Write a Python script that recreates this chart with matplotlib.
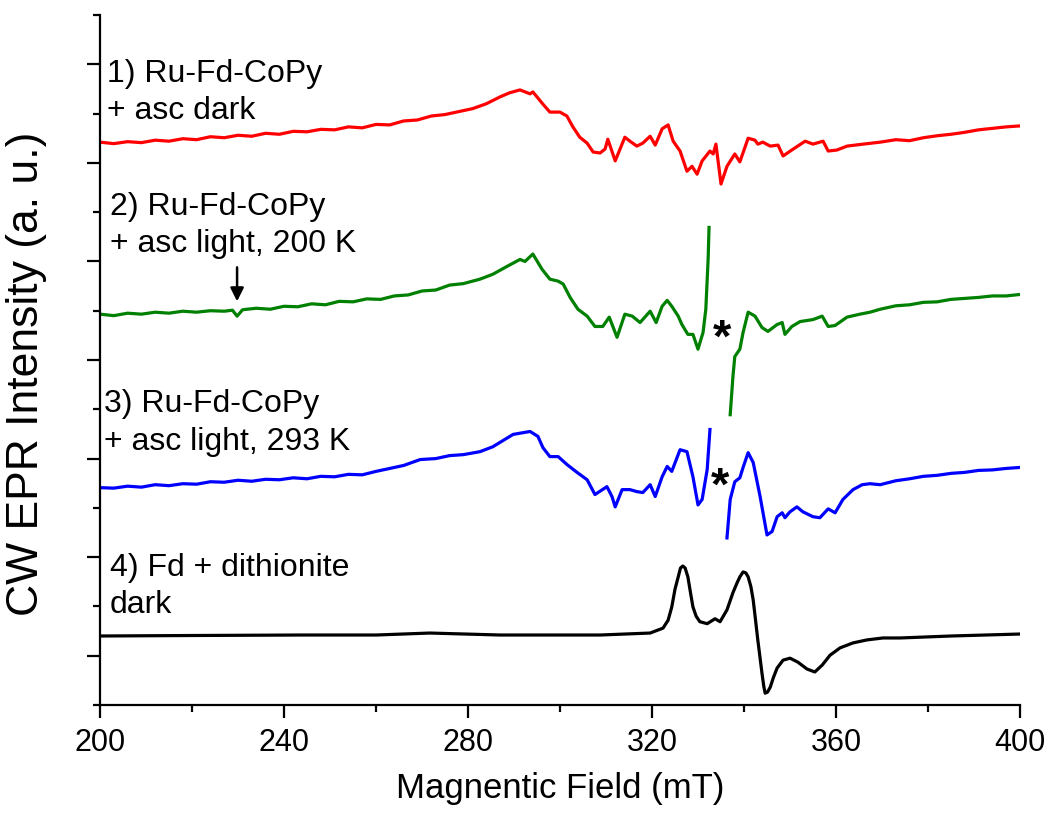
import numpy as np
import matplotlib.pyplot as plt
from matplotlib.ticker import MultipleLocator, NullFormatter

# spectrum 1: Ru-Fd-CoPy + asc dark (relative to its own baseline)
field_1 = [200.0, 203.0, 206.0, 209.0, 212.0, 215.0, 218.0, 221.0, 224.0, 227.0,
           230.0, 233.0, 236.0, 239.0, 242.0, 245.0, 248.0, 251.0, 254.0, 257.0,
           260.0, 263.0, 266.0, 269.0, 272.0, 275.0, 278.0, 281.0, 284.0, 287.0,
           289.0, 291.3, 293.5, 294.1, 296.3, 297.8, 300.0, 301.5, 302.8, 304.3,
           305.9, 307.2, 308.7, 309.8, 310.4, 312.0, 314.1, 315.2, 316.7, 318.0,
           319.6, 320.7, 322.2, 323.5, 324.6, 326.1, 327.6, 328.7, 329.8, 330.9,
           332.6, 333.3, 333.9, 335.0, 336.3, 338.0, 339.1, 340.9, 342.4, 343.0,
           344.1, 345.7, 347.4, 348.5, 350.7, 353.3, 355.0, 357.2, 358.3, 360.2,
           362.4, 365.9, 369.6, 373.0, 376.0, 379.0, 382.0, 385.0, 388.0, 391.0,
           394.0, 397.0, 400.0]
int_1 = [0.02, -0.01, 0.03, 0.01, 0.06, 0.04, 0.09, 0.07, 0.13, 0.11,
         0.16, 0.14, 0.20, 0.18, 0.24, 0.23, 0.28, 0.27, 0.33, 0.31,
         0.38, 0.37, 0.45, 0.47, 0.55, 0.58, 0.64, 0.70, 0.80, 0.94,
         1.02, 1.08, 1.00, 1.04, 0.79, 0.63, 0.63, 0.55, 0.33, 0.12,
         0.00, -0.18, -0.20, -0.12, 0.08, -0.36, 0.12, 0.04, -0.06, 0.00,
         0.14, -0.04, 0.29, 0.37, 0.04, -0.16, -0.57, -0.47, -0.63, -0.36,
         -0.16, -0.22, -0.02, -0.83, -0.47, -0.22, -0.38, 0.10, 0.06, -0.02,
         0.02, -0.06, -0.04, -0.26, -0.12, 0.04, -0.02, 0.04, -0.16, -0.14,
         -0.06, -0.02, 0.02, 0.07, 0.05, 0.11, 0.15, 0.18, 0.22, 0.27,
         0.30, 0.33, 0.35]

# spectrum 2: Ru-Fd-CoPy + asc light, 200 K
field_2 = [200.0, 203.0, 206.0, 209.0, 212.0, 215.0, 218.0, 221.0, 224.0, 227.0,
           228.8, 229.8, 231.0, 234.0, 237.0, 240.0, 243.0, 246.0, 249.0, 252.0,
           255.0, 258.0, 261.0, 264.0, 267.0, 270.0, 273.0, 276.0, 279.0, 282.6,
           285.4, 288.5, 291.3, 292.4, 294.1, 296.1, 297.8, 299.6, 300.7, 302.2,
           303.9, 305.9, 307.6, 309.3, 310.7, 312.4, 314.1, 315.7, 317.4, 319.6,
           320.9, 322.2, 323.3, 324.3, 325.7, 326.5, 327.8, 328.9, 330.0, 331.1,
           331.7, 332.2, 332.4,
           np.nan,
           337.0, 337.6, 338.0, 339.1, 339.8, 340.9, 342.4, 343.9, 345.2, 347.2,
           348.3, 348.9, 350.4, 352.2, 355.0, 357.0, 358.3, 359.8, 362.4, 365.2,
           367.4, 369.6, 373.0, 376.0, 379.0, 382.0, 385.0, 388.0, 391.0, 394.0,
           397.0, 400.0]
int_2 = [0.03, 0.00, 0.05, 0.03, 0.07, 0.05, 0.09, 0.07, 0.10, 0.09,
         0.11, -0.01, 0.12, 0.15, 0.13, 0.19, 0.18, 0.24, 0.22, 0.29,
         0.28, 0.34, 0.33, 0.40, 0.42, 0.50, 0.52, 0.62, 0.65, 0.74,
         0.84, 1.00, 1.14, 1.10, 1.25, 0.94, 0.74, 0.70, 0.64, 0.37,
         0.13, -0.01, -0.22, -0.22, -0.03, -0.44, 0.03, -0.01, -0.14, 0.09,
         -0.14, 0.19, 0.31, 0.19, -0.01, -0.18, -0.38, -0.38, -0.68, -0.34,
         0.13, 1.14, 1.79,
         np.nan,
         -2.01, -1.23, -0.83, -0.68, -0.34, 0.07, -0.01, -0.24, -0.32, -0.18,
         -0.14, -0.38, -0.22, -0.12, -0.08, -0.01, -0.22, -0.20, -0.03, 0.03,
         0.07, 0.13, 0.20, 0.22, 0.27, 0.28, 0.33, 0.35, 0.37, 0.40,
         0.40, 0.43]

# spectrum 3: Ru-Fd-CoPy + asc light, 293 K
field_3 = [200.0, 203.0, 206.0, 209.0, 212.0, 215.0, 218.0, 221.0, 224.0, 227.0,
           230.0, 233.0, 236.0, 239.0, 242.0, 245.0, 248.0, 251.0, 254.0, 257.0,
           260.0, 263.0, 266.0, 269.6, 273.0, 276.0, 279.0, 282.6, 285.4, 289.8,
           293.5, 295.2, 296.3, 297.8, 299.6, 301.5, 303.7, 305.9, 307.6, 310.2,
           311.3, 312.0, 313.5, 315.2, 316.7, 318.0, 319.6, 320.7, 322.2, 323.3,
           324.3, 326.1, 327.6, 328.9, 330.0, 330.9, 332.0, 332.6,
           np.nan,
           336.3, 337.0, 338.0, 339.1, 339.8, 340.9, 342.0, 343.5, 345.0, 346.1,
           347.2, 348.3, 348.9, 350.0, 351.5, 352.8, 355.0, 356.5, 358.3, 359.8,
           361.5, 363.7, 365.7, 367.4, 369.6, 373.0, 376.0, 379.0, 382.0, 385.0,
           388.0, 391.0, 394.0, 397.0, 400.0]
int_3 = [0.01, 0.00, 0.04, 0.02, 0.07, 0.05, 0.09, 0.08, 0.13, 0.12,
         0.16, 0.14, 0.18, 0.17, 0.21, 0.19, 0.24, 0.23, 0.28, 0.27,
         0.34, 0.40, 0.46, 0.58, 0.60, 0.66, 0.68, 0.74, 0.84, 1.09,
         1.15, 1.05, 0.82, 0.64, 0.64, 0.48, 0.32, 0.17, -0.13, 0.03,
         -0.17, -0.38, -0.03, -0.03, -0.07, -0.09, 0.07, -0.17, 0.23, 0.44,
         0.34, 0.78, 0.74, 0.23, -0.34, -0.23, 0.38, 1.19,
         np.nan,
         -1.01, -0.23, 0.13, 0.21, 0.42, 0.72, 0.52, -0.17, -0.95, -0.88,
         -0.58, -0.50, -0.60, -0.48, -0.38, -0.48, -0.58, -0.60, -0.42, -0.50,
         -0.23, -0.03, 0.07, 0.09, 0.07, 0.15, 0.19, 0.24, 0.26, 0.30,
         0.32, 0.36, 0.37, 0.40, 0.42]

# spectrum 4: Fd + dithionite dark
field_4 = [200.0, 220.0, 243.5, 260.0, 271.7, 287.0, 308.7, 319.6, 322.4, 323.5,
           324.3, 325.0, 325.7, 326.2, 326.7, 327.2, 327.8, 328.4, 328.9, 329.6,
           330.4, 332.0, 333.7, 334.8, 336.3, 337.6, 338.5, 339.1, 339.8, 340.4,
           340.9, 341.5, 342.0, 342.5, 343.0, 343.5, 343.9, 344.3, 344.6, 345.1,
           345.7, 346.4, 347.2, 348.5, 350.0, 351.7, 353.7, 355.4, 357.0, 358.7,
           360.9, 363.7, 366.7, 370.2, 373.9, 385.0, 400.0]
int_4 = [0.00, 0.01, 0.02, 0.02, 0.06, 0.02, 0.02, 0.06, 0.16, 0.32,
         0.59, 0.95, 1.20, 1.38, 1.42, 1.38, 1.20, 0.86, 0.59, 0.40,
         0.29, 0.25, 0.35, 0.29, 0.53, 0.88, 1.08, 1.20, 1.30, 1.28,
         1.20, 1.00, 0.73, 0.33, -0.08, -0.45, -0.75, -1.02, -1.16, -1.14,
         -1.04, -0.84, -0.65, -0.49, -0.45, -0.53, -0.67, -0.73, -0.59, -0.39,
         -0.24, -0.14, -0.08, -0.04, -0.04, 0.00, 0.04]

fields = [field_1, field_2, field_3, field_4]
intensities = [int_1, int_2, int_3, int_4]
offsets = [11.4, 7.9, 4.4, 1.4]
colors = ['#ff0000', '#008000', '#0000ff', '#000000']

labels = [('1) Ru-Fd-CoPy', '+ asc dark'),
          ('2) Ru-Fd-CoPy', '+ asc light, 200 K'),
          ('3) Ru-Fd-CoPy', '+ asc light, 293 K'),
          ('4) Fd + dithionite', 'dark')]
label_pos = [(201.5, 12.80, 12.05), (202.2, 10.10, 9.35),
             (200.9, 6.10, 5.33), (202.2, 2.78, 2.03)]

star_pos = [(335.2, 7.42), (334.8, 4.41)]
arrow_field = 229.8

plt.rcParams['font.family'] = ['Liberation Sans', 'DejaVu Sans']

fig = plt.figure(figsize=(10.48, 8.13), dpi=100)
ax = fig.add_axes([100 / 1048, 108 / 813, 920 / 1048, 690 / 813])

for f, y, off, c in zip(fields, intensities, offsets, colors):
    ax.plot(f, np.array(y) + off, color=c, lw=2.3)

for (l1, l2), (x, y1, y2) in zip(labels, label_pos):
    ax.text(x, y1, l1, fontsize=23, va='center', ha='left')
    ax.text(x, y2, l2, fontsize=23, va='center', ha='left')

for x, y in star_pos:
    ax.text(x, y, '*', fontsize=34, fontweight='bold', ha='center', va='center')

ax.annotate('', xy=(arrow_field, 8.19), xytext=(arrow_field, 8.88),
            arrowprops=dict(arrowstyle='-|>', color='black', lw=1.8,
                            mutation_scale=20, shrinkA=0, shrinkB=0))

ax.set_xlim(200, 400)
ax.set_ylim(0, 14)
ax.xaxis.set_major_locator(MultipleLocator(40))
ax.xaxis.set_minor_locator(MultipleLocator(20))
ax.set_yticks([1, 3, 5, 7, 9, 11, 13])
ax.set_yticks([0, 2, 4, 6, 8, 10, 12, 14], minor=True)
ax.yaxis.set_major_formatter(NullFormatter())

for s in ['top', 'right']:
    ax.spines[s].set_visible(False)
for s in ['left', 'bottom']:
    ax.spines[s].set_linewidth(1.6)

ax.tick_params(which='major', direction='out', length=9.5, width=1.6)
ax.tick_params(which='minor', direction='out', length=5, width=1.6)
ax.tick_params(axis='x', labelsize=22, pad=7)

ax.set_xlabel('Magnentic Field (mT)', fontsize=25, labelpad=10)
ax.set_ylabel('CW EPR Intensity (a. u.)', fontsize=32)
ax.yaxis.set_label_coords(-0.058, 0.48)

fig.savefig('out.png', dpi=100)
